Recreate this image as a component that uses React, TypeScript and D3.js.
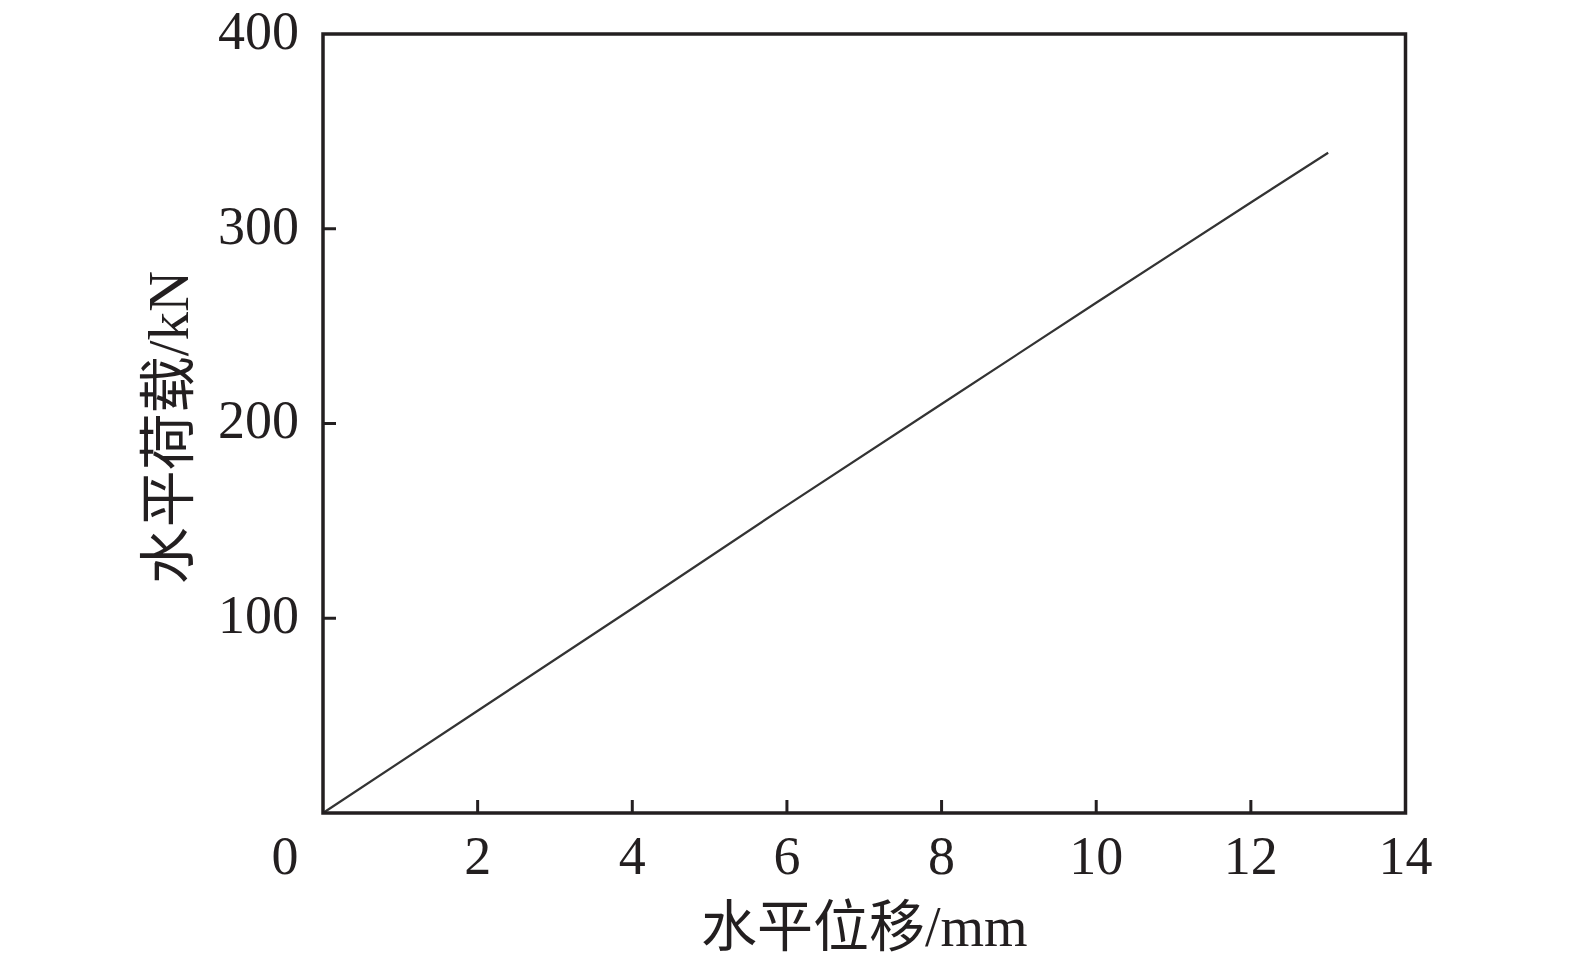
import React from "react";
import * as d3 from "d3";

const dispX = [0, 2, 4, 6, 8, 10, 12, 13];
const loadY = [0, 52.5, 105, 158, 210, 262, 313.5, 339];
const xTicks = [2, 4, 6, 8, 10, 12, 14];
const yTicks = [100, 200, 300, 400];
const xLabel = "水平位移/mm";
const yLabel = "水平荷载/kN";

const W = 1575;
const H = 965;
const left = 323;
const right = 1405.5;
const top = 34;
const bottom = 813;
const font = "'Liberation Serif', 'Times New Roman', 'Noto Sans CJK SC', serif";
const axisColor = "#231f20";

export default function App() {
  const x = d3.scaleLinear().domain([0, 14]).range([left, right]);
  const y = d3.scaleLinear().domain([0, 400]).range([bottom, top]);
  const line = d3
    .line<number>()
    .x((_, i) => x(dispX[i]))
    .y((d) => y(d));
  const tickLen = 13;
  return (
    <svg
      width={W}
      height={H}
      style={{ position: "absolute", left: 0, top: 0, background: "#fff" }}
    >
      <path d={line(loadY) || ""} fill="none" stroke="#333" strokeWidth={2.2} />
      {xTicks.slice(0, -1).map((t) => (
        <line
          key={"xt" + t}
          x1={x(t)}
          x2={x(t)}
          y1={bottom}
          y2={bottom - tickLen}
          stroke={axisColor}
          strokeWidth={3}
        />
      ))}
      {yTicks.slice(0, -1).map((t) => (
        <line
          key={"yt" + t}
          x1={left}
          x2={left + tickLen}
          y1={y(t)}
          y2={y(t)}
          stroke={axisColor}
          strokeWidth={3}
        />
      ))}
      <rect
        x={left}
        y={top}
        width={right - left}
        height={bottom - top}
        fill="none"
        stroke={axisColor}
        strokeWidth={3.5}
      />
      {xTicks.map((t) => (
        <text
          key={"xl" + t}
          x={x(t)}
          y={855}
          dy="0.35em"
          textAnchor="middle"
          fontFamily={font}
          fontSize={54}
          fill={axisColor}
        >
          {t}
        </text>
      ))}
      <text
        x={285}
        y={855}
        dy="0.35em"
        textAnchor="middle"
        fontFamily={font}
        fontSize={54}
        fill={axisColor}
      >
        0
      </text>
      {yTicks.map((t) => (
        <text
          key={"yl" + t}
          x={299}
          y={y(t) - 4}
          dy="0.35em"
          textAnchor="end"
          fontFamily={font}
          fontSize={54}
          fill={axisColor}
        >
          {t}
        </text>
      ))}
      <text
        x={(left + right) / 2}
        y={926}
        dy="0.35em"
        textAnchor="middle"
        fontFamily={font}
        fontSize={56}
        fill={axisColor}
      >
        {xLabel}
      </text>
      <text
        transform={`translate(168,${(top + bottom) / 2 + 4}) rotate(-90)`}
        dy="0.35em"
        textAnchor="middle"
        fontFamily={font}
        fontSize={57}
        fill={axisColor}
      >
        {yLabel}
      </text>
    </svg>
  );
}
